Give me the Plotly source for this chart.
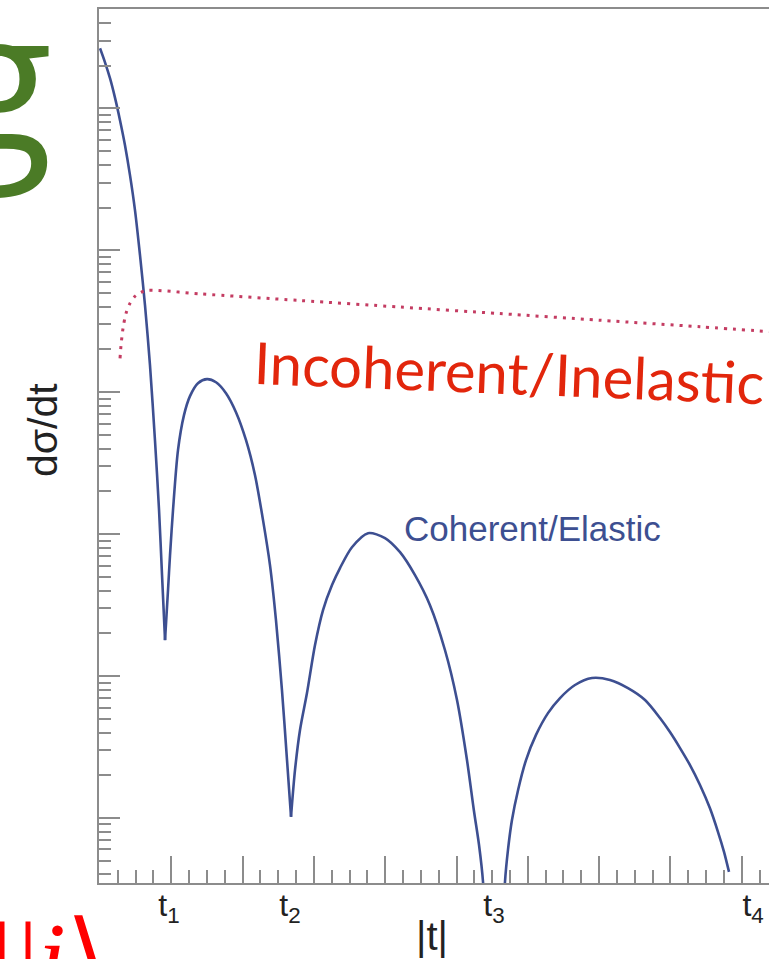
import plotly.graph_objects as go

# ---------------- data (|t| in arbitrary units, dsigma/dt arbitrary units) ----------------
coh_x_1 = [0.000, 0.070, 0.140, 0.210, 0.281, 0.351, 0.421, 0.491, 0.561, 0.631, 0.701,
           0.771, 0.828, 0.870, 0.912]
coh_y_1 = [2.65e5, 2.11e5, 1.63e5, 1.19e5, 8.22e4, 5.48e4, 3.37e4, 1.91e4, 9.23e3, 4.10e3,
           1.55e3, 459, 148, 51.4, 17.9]

coh_x_2 = [0.912, 0.954, 0.982, 1.024, 1.094, 1.178, 1.262, 1.374, 1.501, 1.627, 1.767, 1.907,
           2.048, 2.174, 2.286, 2.384, 2.468, 2.552, 2.623, 2.679]
coh_y_2 = [17.9, 40.4, 71.1, 147.6, 391, 689, 938, 1156, 1236, 1175, 984, 723,
           459, 260, 126, 60.5, 24.8, 7.96, 2.56, 1.02]

coh_x_3 = [2.679, 2.735, 2.805, 2.903, 3.015, 3.128, 3.254, 3.366, 3.534, 3.759, 3.997, 4.208,
           4.418, 4.628, 4.839, 5.007, 5.147, 5.245, 5.316, 5.372, 5.414]
coh_y_3 = [1.02, 2.18, 4.17, 7.59, 16.5, 29.2, 43.8, 57.7, 80.9, 101.6, 93.8, 74.6,
           51.4, 31.6, 15.2, 6.78, 2.56, 1.12, 0.645, 0.354, 0.1]

coh_x_4 = [5.638, 5.680, 5.722, 5.778, 5.863, 5.975, 6.115, 6.283, 6.452, 6.662, 6.900, 7.153,
           7.405, 7.644, 7.854, 7.994, 8.135, 8.275, 8.415, 8.555, 8.668, 8.752, 8.822]
coh_y_4 = [0.1, 0.354, 0.596, 0.968, 1.57, 2.56, 3.85, 5.48, 7.0, 8.65, 9.68, 9.38,
           8.22, 6.78, 5.06, 4.03, 3.11, 2.36, 1.71, 1.17, 0.796, 0.577, 0.417]

incoh_x = [0.281, 0.295, 0.323, 0.365, 0.421, 0.491, 0.575, 0.673, 1.403, 2.805, 4.208,
           5.610, 7.013, 8.415, 9.45]
incoh_y = [1734, 2143, 2825, 3597, 4236, 4742, 5058, 5224, 4932, 4426, 3981,
           3581, 3214, 2891, 2660]

t_label_vals = [0.968, 2.665, 5.526, 9.16]
t_label_text = ["t<sub>1</sub>", "t<sub>2</sub>", "t<sub>3</sub>", "t<sub>4</sub>"]

# ---------------- layout geometry ----------------
W, H = 769, 959
PL, PR, PT, PB = 99, 769, 9, 883


def pxx(px):
    return (px - PL) / (PR - PL)


def pxy(py):
    return (PB - py) / (PB - PT)


BLUE = "#3d4f91"
AXC = "#8c8c8c"

fig = go.Figure()

for xs, ys in [(coh_x_1, coh_y_1), (coh_x_2, coh_y_2), (coh_x_3, coh_y_3), (coh_x_4, coh_y_4)]:
    fig.add_trace(go.Scatter(x=xs, y=ys, mode="lines",
                             line=dict(color=BLUE, width=2.6, shape="spline", smoothing=0.8),
                             hoverinfo="skip", showlegend=False))

fig.add_trace(go.Scatter(x=incoh_x, y=incoh_y, mode="lines",
                         line=dict(color="#c43c62", width=3, dash="3px,6px",
                                   shape="spline", smoothing=0.8),
                         hoverinfo="skip", showlegend=False))

# dummy trace so that the label axis is drawn
fig.add_trace(go.Scatter(x=[t_label_vals[0]], y=[1], xaxis="x2", mode="markers",
                         marker=dict(opacity=0), hoverinfo="skip", showlegend=False))

x_range = [(PL - 100) / 71.3, (PR - 100) / 71.3]

fig.update_layout(
    width=W, height=H,
    margin=dict(l=PL, r=W - PR, t=PT, b=H - PB),
    paper_bgcolor="white", plot_bgcolor="white",
    xaxis=dict(range=x_range, showgrid=False, zeroline=False,
               showline=True, linecolor=AXC, linewidth=2, mirror=True,
               tickmode="linear", tick0=0, dtick=1,
               ticks="inside", ticklen=27, tickwidth=1.5, tickcolor=AXC,
               showticklabels=False,
               minor=dict(tickmode="linear", tick0=0, dtick=0.25, ticks="inside",
                          ticklen=13, tickwidth=1.5, tickcolor=AXC, showgrid=False)),
    xaxis2=dict(overlaying="x", matches="x", side="bottom", showgrid=False,
                zeroline=False, showline=False, ticks="",
                tickmode="array", tickvals=t_label_vals, ticktext=t_label_text,
                tickfont=dict(family="Liberation Sans, Arial", size=32, color="#222222"),
                ticklabelstandoff=0),
    yaxis=dict(type="log", range=[-0.458, 5.70], showgrid=False, zeroline=False,
               showline=True, linecolor=AXC, linewidth=2, mirror=False,
               tickmode="linear", tick0=0, dtick=1,
               ticks="inside", ticklen=21, tickwidth=1.5, tickcolor=AXC,
               showticklabels=False,
               minor=dict(dtick="D1", ticks="inside", ticklen=12, tickwidth=1.5,
                          tickcolor=AXC, showgrid=False)),
    showlegend=False,
)

annotations = [
    # axis titles
    dict(text="dσ/dt", x=pxx(43), y=pxy(430), textangle=-90,
         font=dict(family="Liberation Sans, Arial", size=41, color="#222222")),
    dict(text="|t|", x=pxx(432), y=pxy(936),
         font=dict(family="Liberation Sans, Arial", size=40, color="#222222")),
    # curve labels
    dict(text="Incoherent/Inelastic", x=pxx(509), y=pxy(371), textangle=2.3,
         font=dict(family="Lato", size=58, color="#e2260c")),
    dict(text="Coherent/Elastic", x=pxx(532), y=pxy(528),
         font=dict(family="Liberation Sans, Arial", size=35, color=BLUE)),
    # slide fragments around the chart
    dict(text="g", x=pxx(54), y=pxy(75), xanchor="right",
         font=dict(family="Open Sans", size=196, color="#4b7b26")),
    dict(text="|", x=pxx(2), y=pxy(958),
         font=dict(family="Liberation Serif", size=100, color="#ff0000")),
    dict(text="|<i>i</i>⟩", x=pxx(16), y=pxy(958), xanchor="left",
         font=dict(family="Liberation Serif", size=100, color="#ff0000")),
]
for a in annotations:
    a.setdefault("xanchor", "center")
    a.setdefault("yanchor", "middle")
    a.update(xref="paper", yref="paper", showarrow=False)
fig.update_layout(annotations=annotations)

fig.write_html("out.html")
